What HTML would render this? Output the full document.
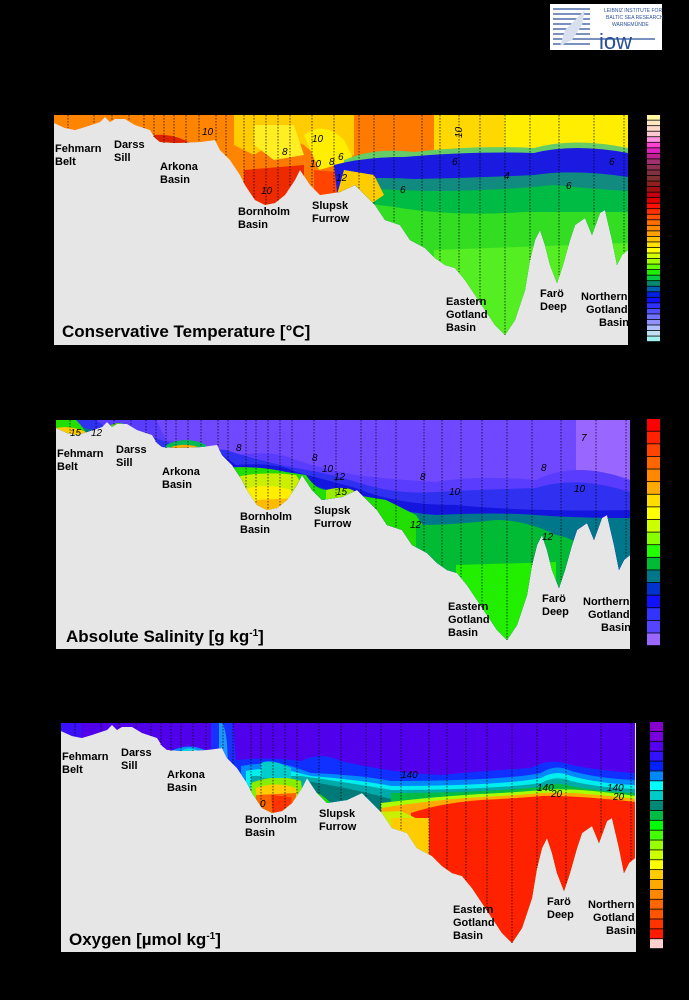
<!DOCTYPE html>
<html><head><meta charset="utf-8"><style>
html,body{margin:0;padding:0;background:#000;}
svg{display:block}
text{font-family:"Liberation Sans",sans-serif;}
.l{font-size:11px;fill:#000;font-weight:bold;}
.t{font-size:17px;font-weight:bold;fill:#000;}
.c{font-size:10px;font-style:italic;fill:#000;}
</style></head><body>
<svg width="689" height="1000" viewBox="0 0 689 1000" xmlns="http://www.w3.org/2000/svg">
<defs>
<clipPath id="w"><polygon points="0,0 0,8 11,13 21,15 31,12 46,7 51,2 56,7 61,4 71,4 81,10 96,15 101,23 106,27 121,28 146,27 161,25 166,35 176,45 186,60 191,70 201,85 211,90 221,88 231,80 241,65 246,55 256,70 266,80 286,77 301,70 311,80 321,90 331,105 346,110 356,125 371,133 381,143 391,150 401,153 411,165 421,180 431,195 441,210 451,220 461,205 471,175 476,145 481,125 486,115 491,130 496,150 503,168 509,150 516,125 521,110 531,103 538,120 546,98 551,95 558,125 563,150 568,140 574,135 574,0"/></clipPath>
<g id="vl" stroke="#000" stroke-width="0.7" stroke-dasharray="1.5,1.5">
<line x1="14" y1="0" x2="14" y2="13"/><line x1="40" y1="0" x2="40" y2="9"/><line x1="58" y1="0" x2="58" y2="6"/><line x1="75" y1="0" x2="75" y2="6"/><line x1="90" y1="0" x2="90" y2="13"/><line x1="100" y1="0" x2="100" y2="22"/><line x1="110" y1="0" x2="110" y2="28"/><line x1="120" y1="0" x2="120" y2="28"/><line x1="132" y1="0" x2="132" y2="28"/><line x1="145" y1="0" x2="145" y2="27"/><line x1="162" y1="0" x2="162" y2="27"/><line x1="172" y1="0" x2="172" y2="42"/><line x1="190" y1="0" x2="190" y2="68"/><line x1="200" y1="0" x2="200" y2="84"/><line x1="212" y1="0" x2="212" y2="90"/><line x1="224" y1="0" x2="224" y2="86"/><line x1="236" y1="0" x2="236" y2="72"/><line x1="258" y1="0" x2="258" y2="72"/><line x1="280" y1="0" x2="280" y2="78"/><line x1="305" y1="0" x2="305" y2="74"/><line x1="320" y1="0" x2="320" y2="90"/><line x1="340" y1="0" x2="340" y2="108"/><line x1="368" y1="0" x2="368" y2="132"/><line x1="386" y1="0" x2="386" y2="147"/><line x1="405" y1="0" x2="405" y2="157"/><line x1="426" y1="0" x2="426" y2="188"/><line x1="451" y1="0" x2="451" y2="220"/><line x1="476" y1="0" x2="476" y2="145"/><line x1="505" y1="0" x2="505" y2="160"/><line x1="540" y1="0" x2="540" y2="110"/><line x1="570" y1="0" x2="570" y2="138"/>
</g>
<g id="lab">
<text class="l" x="1" y="37">Fehmarn</text><text class="l" x="1" y="50">Belt</text>
<text class="l" x="60" y="33">Darss</text><text class="l" x="60" y="46">Sill</text>
<text class="l" x="106" y="55">Arkona</text><text class="l" x="106" y="68">Basin</text>
<text class="l" x="184" y="100">Bornholm</text><text class="l" x="184" y="113">Basin</text>
<text class="l" x="258" y="94">Slupsk</text><text class="l" x="258" y="107">Furrow</text>
<text class="l" x="392" y="190">Eastern</text><text class="l" x="392" y="203">Gotland</text><text class="l" x="392" y="216">Basin</text>
<text class="l" x="486" y="182">Farö</text><text class="l" x="486" y="195">Deep</text>
<text class="l" x="527" y="185">Northern</text><text class="l" x="532" y="198">Gotland</text><text class="l" x="545" y="211">Basin</text>
</g>
</defs>
<rect width="689" height="1000" fill="#000"/>
<!-- logo -->
<rect x="550" y="4" width="112" height="46" fill="#fff"/>
<g stroke="#2a4f9a" stroke-width="1.2">
<line x1="553" y1="9" x2="590" y2="9"/><line x1="553" y1="14" x2="590" y2="14"/><line x1="553" y1="19" x2="590" y2="19"/><line x1="553" y1="24" x2="590" y2="24"/><line x1="553" y1="29" x2="590" y2="29"/><line x1="553" y1="34" x2="590" y2="34"/><line x1="553" y1="39" x2="655" y2="39"/><line x1="553" y1="44" x2="590" y2="44"/>
</g>
<path d="M560,46 L565,30 L575,20 L585,10 L582,25 L572,40 Z" fill="#d8e0f0"/>
<text x="599" y="49" font-size="22" fill="#2a4f9a" style="font-family:'Liberation Sans',sans-serif">iow</text>
<text x="604" y="12" font-size="5" fill="#2a4f9a">LEIBNIZ INSTITUTE FOR</text>
<text x="606" y="19" font-size="5" fill="#2a4f9a">BALTIC SEA RESEARCH</text>
<text x="612" y="26" font-size="5" fill="#2a4f9a">WARNEMÜNDE</text>

<!-- PANEL 1 temperature -->
<g transform="translate(54,115)">
<rect width="574" height="230" fill="#e6e6e6"/>
<g clip-path="url(#w)">
<rect width="574" height="230" fill="#ff7a00"/>
<rect x="0" y="0" width="190" height="230" fill="#ff8400"/>
<path d="M100,20 Q120,18 140,30 L140,40 L100,40Z" fill="#dd2200"/>
<ellipse cx="130" cy="38" rx="14" ry="8" fill="#bb1111"/>
<path d="M180,0 L300,0 L300,40 Q270,50 250,30 Q230,20 200,40 L180,30Z" fill="#ffcc00"/>
<path d="M200,10 L240,10 L250,40 L220,45 L200,30Z" fill="#ffee22"/>
<path d="M250,20 Q270,5 290,25 L300,45 L265,55 Z" fill="#ffee00"/>
<path d="M190,55 L250,50 L250,95 L190,95Z" fill="#ee2a00"/>
<path d="M260,55 L320,60 L320,95 L260,95Z" fill="#ff4400"/>
<rect x="380" y="0" width="194" height="40" fill="#ffd800"/>
<rect x="450" y="0" width="124" height="35" fill="#ffee00"/>
<path d="M290,45 Q320,32 360,37 Q420,30 480,33 Q520,22 574,33 L574,230 L290,230Z" fill="#66cc66"/>
<path d="M280,50 Q310,42 350,42 Q420,36 480,38 Q520,28 574,38 L574,230 L300,230Z" fill="#1a1ae0"/>
<path d="M300,64 Q330,62 360,64 Q420,63 480,60 Q520,54 574,62 L574,230 L300,230Z" fill="#118a80"/>
<path d="M300,72 Q330,75 380,76 Q440,76 500,70 Q540,74 574,76 L574,230 L300,230Z" fill="#00bb44"/>
<path d="M280,82 Q300,87 340,92 Q400,102 470,97 L574,97 L574,230 L280,230Z" fill="#33dd22"/>
<path d="M380,135 L574,128 L574,230 L380,230Z" fill="#55ee22"/>
<path d="M290,55 L320,60 L330,80 L300,100 L280,90Z" fill="#ffcc00"/>
</g>
<use href="#vl"/>
<text class="c" x="148" y="20">10</text><text class="c" x="258" y="27">10</text><text class="c" x="256" y="52">10</text><text class="c" x="207" y="79">10</text><text class="c" x="282" y="66">12</text><text class="c" x="228" y="40">8</text><text class="c" x="275" y="50">8</text><text class="c" x="284" y="45">6</text><text class="c" x="398" y="50">6</text><text class="c" x="450" y="64">4</text><text class="c" x="346" y="78">6</text><text class="c" x="512" y="74">6</text><text class="c" x="555" y="50">6</text>
<text class="c" x="399" y="22" transform="rotate(-90 404 18)">10</text>
<use href="#lab"/>
<text class="t" x="8" y="222">Conservative Temperature [°C]</text>
</g>

<!-- PANEL 2 salinity -->
<g transform="translate(56,420)">
<rect width="574" height="229" fill="#e6e6e6"/>
<g clip-path="url(#w)">
<rect width="574" height="230" fill="#7048ff"/>
<rect x="520" y="0" width="54" height="60" fill="#9966ff"/>
<path d="M0,0 L60,0 L100,0 L110,20 L160,28 L180,35 Q220,30 240,40 Q270,50 300,55 Q340,60 380,62 Q420,55 480,60 Q520,40 574,60 L574,230 L0,230Z" fill="#5a3cff"/>
<path d="M0,0 L40,0 L60,15 L90,15 L120,25 L170,30 Q200,40 240,48 Q280,55 300,62 Q340,75 380,72 Q420,70 480,68 Q520,55 574,72 L574,230 L0,230Z" fill="#3030f0"/>
<path d="M0,30 L50,25 L100,30 L160,30 L180,45 Q220,42 240,52 Q270,60 300,68 Q340,85 400,85 Q470,92 574,90 L574,230 L0,230Z" fill="#1515e0"/>
<path d="M0,8 Q20,2 50,15 L80,20 L120,40 L180,48 Q220,45 240,60 Q270,70 300,78 Q340,92 380,95 Q440,92 480,95 Q520,98 574,98 L574,230 L0,230Z" fill="#00778a"/>
<path d="M160,48 Q200,45 230,52 L250,55 Q260,70 270,70 Q300,75 330,80 L360,95 L370,110 L360,230 L160,230Z" fill="#22dd00"/>
<path d="M360,105 Q400,105 440,100 Q470,100 500,115 Q530,120 545,150 L545,230 L360,230Z" fill="#00bb33"/>
<path d="M400,145 L500,142 L500,230 L400,230Z" fill="#22ee00"/>
<path d="M170,60 Q200,50 240,55 L250,70 L230,100 L180,100Z" fill="#ccee00"/>
<path d="M185,70 Q210,62 235,70 L240,100 L185,100Z" fill="#ffee00"/>
<path d="M200,80 L240,78 L240,100 L200,100Z" fill="#ffbb00"/>
<path d="M270,70 Q290,65 300,72 L300,100 L270,100Z" fill="#99ee00"/>
<path d="M0,0 L20,0 Q30,10 30,15 L0,20Z" fill="#22dd00"/>
<path d="M0,8 Q15,5 30,12 L30,20 L0,20Z" fill="#ffcc00"/>
<path d="M0,14 Q15,12 30,18 L30,22 L0,22Z" fill="#ff7700"/>
<path d="M110,25 Q130,15 150,25 L150,32 L110,32Z" fill="#00bb55"/>
<path d="M115,27 Q130,22 145,28 L145,32 L115,32Z" fill="#ffaa00"/>
<path d="M55,5 Q65,0 75,8 L75,15 L55,15Z" fill="#55dd00"/>
</g>
<use href="#vl"/>
<text class="c" x="14" y="16">15</text><text class="c" x="35" y="16">12</text><text class="c" x="180" y="31">8</text><text class="c" x="256" y="41">8</text><text class="c" x="266" y="52">10</text><text class="c" x="278" y="60">12</text><text class="c" x="280" y="75">15</text><text class="c" x="364" y="60">8</text><text class="c" x="393" y="75">10</text><text class="c" x="354" y="108">12</text><text class="c" x="485" y="51">8</text><text class="c" x="518" y="72">10</text><text class="c" x="486" y="120">12</text><text class="c" x="525" y="21">7</text>
<use href="#lab"/>
<text class="t" x="10" y="222">Absolute Salinity [g kg<tspan font-size="10" dy="-6">-1</tspan><tspan dy="6">]</tspan></text>
</g>

<!-- PANEL 3 oxygen -->
<g transform="translate(61,723)">
<rect width="575" height="229" fill="#e6e6e6"/>
<g clip-path="url(#w)">
<rect width="575" height="230" fill="#5000ea"/>
<path d="M0,0 L20,0 L20,25 L0,25Z" fill="#3a10ff"/>
<path d="M150,0 L172,0 L175,40 L180,60 L150,60Z" fill="#1a30ff"/>
<path d="M158,0 Q163,-5 166,20 L168,60 L158,60Z" fill="#1a9aff"/>
<path d="M110,28 Q130,18 150,30 L150,40 L110,40Z" fill="#0090ff"/>
<path d="M120,28 Q130,22 140,30 L140,40 L120,40Z" fill="#00dddd"/>
<path d="M170,38 Q200,33 240,38 Q260,28 280,38 Q330,50 380,52 Q420,48 470,45 Q490,34 510,42 Q540,48 575,50 L575,230 L170,230Z" fill="#1030ff"/>
<path d="M180,43 Q210,38 230,43 L250,50 Q300,52 330,58 Q380,58 420,56 Q460,54 480,50 Q495,40 510,48 Q540,56 575,57 L575,230 L180,230Z" fill="#0088ff"/>
<path d="M185,48 Q210,43 230,48 L250,53 Q300,57 330,63 Q380,63 420,61 Q460,59 480,55 Q495,46 510,53 Q540,61 575,62 L575,230 L185,230Z" fill="#00eeee"/>
<path d="M190,53 L240,53 Q290,60 330,67 Q380,67 420,65 Q460,63 480,60 Q495,52 510,58 Q540,65 575,66 L575,230 L190,230Z" fill="#00aaaa"/>
<path d="M245,58 Q290,65 330,76 L330,230 L245,230Z" fill="#007a78"/>
<path d="M330,70 Q380,70 420,68 Q460,66 480,64 Q495,58 510,63 Q540,69 575,70 L575,230 L330,230Z" fill="#00bb44"/>
<path d="M320,80 Q380,73 420,71 Q460,69 480,67 Q510,64 575,73 L575,230 L320,230Z" fill="#aaff00"/>
<path d="M320,85 Q380,76 420,74 Q460,72 480,70 Q510,68 575,76 L575,230 L320,230Z" fill="#ffaa00"/>
<path d="M350,90 Q380,80 420,77 Q460,75 480,73 Q510,72 575,79 L575,230 L350,230Z" fill="#ff2200"/>
<path d="M290,90 L340,88 L365,100 L370,230 L290,230Z" fill="#ccee00"/>
<path d="M330,95 L370,95 L375,230 L330,230Z" fill="#ffcc00"/>
<path d="M368,95 L575,95 L575,230 L368,230Z" fill="#ff2200"/>
<path d="M245,65 Q260,70 270,80 L270,230 L245,230Z" fill="#22dd00"/>
<path d="M190,60 Q215,50 240,58 L245,100 L190,100Z" fill="#88ee00"/>
<path d="M195,65 Q215,58 235,65 L240,100 L195,100Z" fill="#ffcc00"/>
<path d="M195,72 L235,70 L235,100 L195,100Z" fill="#ff6600"/>
<path d="M210,72 L230,74 L232,90 L212,92Z" fill="#ff3300"/>
<path d="M200,40 Q210,35 230,45 L230,55 L200,55Z" fill="#00cccc"/>
</g>
<use href="#vl"/>
<text class="c" x="340" y="55">140</text><text class="c" x="476" y="68">140</text><text class="c" x="490" y="74">20</text><text class="c" x="546" y="68">140</text><text class="c" x="552" y="77">20</text><text class="c" x="199" y="84">0</text>
<use href="#lab"/>
<text class="t" x="8" y="222">Oxygen [µmol kg<tspan font-size="10" dy="-6">-1</tspan><tspan dy="6">]</tspan></text>
</g>
</svg>
<script>
(function(){
var svg=document.querySelector('svg');
function bar(x,y,w,h,cols){
 var n=cols.length,dh=h/n;
 for(var i=0;i<n;i++){var r=document.createElementNS('http://www.w3.org/2000/svg','rect');
 r.setAttribute('x',x);r.setAttribute('y',(y+i*dh).toFixed(2));r.setAttribute('width',w);r.setAttribute('height',(dh-0.8).toFixed(2));r.setAttribute('fill',cols[i]);svg.appendChild(r);}
}
bar(647,115,13,227,["#fff8a0","#ffe8c0","#ffd8c8","#ffc8d0","#ff90e0","#ff40d0","#e020c0","#c02090","#a03070","#903050","#803040","#803030","#902020","#a01010","#c00010","#e00000","#ff1000","#ff3000","#ff5000","#ff7000","#ff8800","#ffa000","#ffc000","#ffe000","#ffff00","#d0ff00","#a0ff00","#60ff00","#20ee00","#00cc40","#008a70","#0060b0","#0020e0","#1010ff","#3030ff","#5050ff","#7070ff","#9090ff","#b0c0ff","#c0e0f0","#a0f0f0"]);
bar(647,419,13,227,["#ff0000","#ff2200","#ff4400","#ff6600","#ff8800","#ffaa00","#ffdd00","#ffff00","#ccff00","#88ff00","#22ff00","#00bb33","#007788","#0033cc","#1111ff","#3333ff","#5544ff","#9966ff"]);
bar(650,722,13,227,["#8800cc","#7700dd","#5500ee","#3311ff","#0022ff","#0088ff","#00ffff","#00cccc","#008877","#00bb44","#00ff00","#44ff00","#99ff00","#ccff00","#ffff00","#ffcc00","#ffaa00","#ff8800","#ff6600","#ff5500","#ff3300","#ff1a00","#ffd0d0"]);
})();
</script>
</body></html>
